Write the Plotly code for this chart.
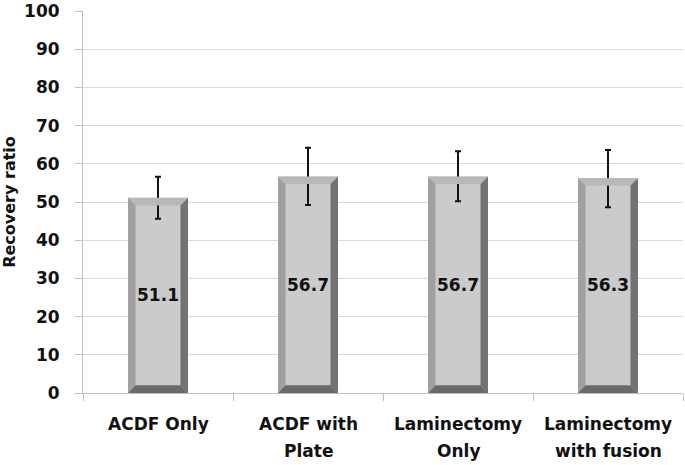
import plotly.graph_objects as go

categories = ["ACDF Only", "ACDF with<br>Plate", "Laminectomy<br>Only", "Laminectomy<br>with fusion"]
values = [51.1, 56.7, 56.7, 56.3]
err_plus = [5.5, 7.5, 6.6, 7.3]
err_minus = [5.5, 7.5, 6.5, 7.7]
labels = ["51.1", "56.7", "56.7", "56.3"]
y_ticks = [0, 10, 20, 30, 40, 50, 60, 70, 80, 90, 100]

FONT = "DejaVu Sans"
bar_w = 0.4
bx = 0.05
by = 2.0

fig = go.Figure()
fig.add_trace(go.Bar(
    x=list(range(len(categories))), y=values, width=bar_w,
    marker=dict(color="#cbcbcb", line=dict(width=0)),
    text=labels, textposition="inside", insidetextanchor="middle",
    textfont=dict(family=FONT, size=17, color="#111111", weight="bold"),
    textangle=0,
    error_y=dict(type="data", symmetric=False, array=err_plus, arrayminus=err_minus,
                 color="#111111", thickness=2, width=3),
    showlegend=False,
))

shapes = []
for i, v in enumerate(values):
    l, r = i - bar_w / 2, i + bar_w / 2
    faces = [
        ([(l, 0), (l, v), (l + bx, v - by), (l + bx, by)], "#a0a0a0"),
        ([(l, v), (r, v), (r - bx, v - by), (l + bx, v - by)], "#b8b8b8"),
        ([(r, v), (r, 0), (r - bx, by), (r - bx, v - by)], "#737373"),
        ([(l, 0), (r, 0), (r - bx, by), (l + bx, by)], "#6a6a6a"),
    ]
    for pts, col in faces:
        path = "M " + " L ".join(f"{px},{py}" for px, py in pts) + " Z"
        shapes.append(dict(type="path", path=path, xref="x", yref="y",
                           fillcolor=col, line=dict(width=0), layer="above"))

annotations = []
for i, c in enumerate(categories):
    for j, line in enumerate(c.split("<br>")):
        annotations.append(dict(x=i, y=0, xref="x", yref="paper", text=line,
                                showarrow=False, yanchor="middle",
                                yshift=-31 - 27 * j,
                                font=dict(family=FONT, size=17, color="#111111", weight="bold")))

fig.update_layout(
    width=685, height=465,
    margin=dict(l=83, r=2, t=11, b=72),
    paper_bgcolor="white", plot_bgcolor="white",
    shapes=shapes, annotations=annotations,
    xaxis=dict(range=[-0.5, 3.5], tickvals=[-0.5, 0.5, 1.5, 2.5, 3.5], showticklabels=False,
               ticks="outside", ticklen=7, tickcolor="#bfbfbf", automargin=False,
               showline=True, linecolor="#bfbfbf", linewidth=1, showgrid=False, zeroline=False),
    yaxis=dict(range=[0, 100], tickvals=y_ticks, ticks="outside", ticklen=7, tickcolor="#bfbfbf",
               showline=True, linecolor="#bfbfbf", linewidth=1, automargin=False,
               ticklabeloverflow="allow", ticklabelstandoff=12,
               showgrid=True, gridcolor="#d9d9d9", gridwidth=1, zeroline=False,
               tickfont=dict(family=FONT, size=17, color="#111111", weight="bold"),
               title=dict(text="Recovery ratio", standoff=5,
                          font=dict(family=FONT, size=16, color="#111111", weight="bold"))),
)

fig.write_html("out.html", config={"displayModeBar": False},
               post_script="document.body.style.margin='0';")
